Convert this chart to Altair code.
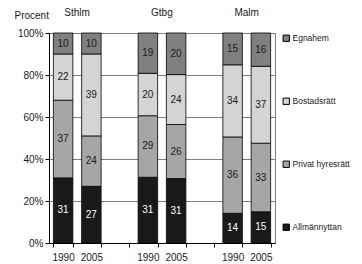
import altair as alt
import pandas as pd

categories = ["Allmännyttan", "Privat hyresrätt", "Bostadsrätt", "Egnahem"]
cities = ["Sthlm", "Gtbg", "Malm"]
years = ["1990", "2005"]
# one value per bar: Sthlm 1990, Sthlm 2005, Gtbg 1990, Gtbg 2005, Malm 1990, Malm 2005
allmannyttan = [31, 27, 31, 31, 14, 15]
privat_hyresratt = [37, 24, 29, 26, 36, 33]
bostadsratt = [22, 39, 20, 24, 34, 37]
egnahem = [10, 10, 19, 20, 15, 16]
colors = ["#1a1a1a", "#a6a6a6", "#d4d4d4", "#808080"]
y_ticks = [0.0, 0.2, 0.4, 0.6, 0.8, 1.0]
y_title = "Procent"

FONT = "Liberation Sans"
FS = 10

series = [allmannyttan, privat_hyresratt, bostadsratt, egnahem]
bar_keys = [f"{c} {y}" for c in cities for y in years]
slots = []
for i, c in enumerate(cities):
    slots += [f"{c} {y}" for y in years]
    if i < len(cities) - 1:
        slots.append(f"gap{i}")

rows = []
for bi, key in enumerate(bar_keys):
    total = sum(s[bi] for s in series)
    cum = 0
    for ci, cat in enumerate(categories):
        v = series[ci][bi]
        cum += v
        rows.append({"slot": key, "category": cat, "rank": ci, "value": v,
                     "label": str(v), "mid": (cum - v / 2) / total})
df = pd.DataFrame(rows)
titles = pd.DataFrame({"city": cities, "slot": [f"{c} {years[0]}" for c in cities]})

xscale = alt.Scale(domain=slots, paddingInner=0.31, paddingOuter=0.155)
yscale = alt.Scale(domain=[0, 1])

x_axis = alt.Axis(title=None, labelAngle=0, tickBand="extent",
                  labelExpr="indexof(datum.label, 'gap') == 0 ? '' : substring(datum.label, length(datum.label) - 4)",
                  domainColor="#000000", tickColor="#000000", tickSize=4,
                  labelPadding=5, grid=False, labelFont=FONT, labelFontSize=FS,
                  labelColor="#1a1a1a")

y_axis = alt.Axis(values=y_ticks, format=".0%", title=y_title, titleAngle=0,
                  titleAlign="left", titleX=-35, titleY=-18, titleBaseline="middle",
                  titleFontWeight="normal", titleFont=FONT, titleFontSize=FS,
                  titleColor="#1a1a1a",
                  labelFont=FONT, labelFontSize=FS, labelColor="#1a1a1a",
                  gridColor="#808080", gridWidth=1, domainColor="#000000",
                  tickColor="#000000", tickSize=4, labelPadding=2)

base = alt.Chart(df)

bars = base.mark_bar(stroke="#000000", strokeWidth=0.8).encode(
    x=alt.X("slot:N", scale=xscale, axis=x_axis),
    y=alt.Y("value:Q", stack="normalize", scale=yscale, axis=y_axis),
    color=alt.Color("category:N", scale=alt.Scale(domain=categories[::-1], range=colors[::-1]),
                    legend=alt.Legend(title=None, orient="none", legendX=233, legendY=1,
                                      symbolType="square", symbolSize=40,
                                      symbolStrokeColor="#000000", symbolStrokeWidth=1,
                                      labelFont=FONT, labelFontSize=8.5, labelColor="#1a1a1a",
                                      rowPadding=52, labelOffset=2, padding=0)),
    order=alt.Order("rank:Q"),
)

text_dark = base.transform_filter("datum.rank > 0").mark_text(
    font=FONT, fontSize=FS, baseline="middle", color="#1a1a1a").encode(
    x=alt.X("slot:N", scale=xscale),
    y=alt.Y("mid:Q", scale=yscale),
    text="label:N",
)
text_light = base.transform_filter("datum.rank == 0").mark_text(
    font=FONT, fontSize=FS, baseline="middle", color="#ffffff").encode(
    x=alt.X("slot:N", scale=xscale),
    y=alt.Y("mid:Q", scale=yscale),
    text="label:N",
)

group_titles = alt.Chart(titles).mark_text(font=FONT, fontSize=FS, baseline="middle",
                                           color="#1a1a1a", dx=14).encode(
    x=alt.X("slot:N", scale=xscale),
    y=alt.value(-20),
    text="city:N",
)

chart = alt.layer(bars, text_dark, text_light, group_titles).properties(
    width=226, height=210,
    autosize=alt.AutoSizeParams(type="none"),
    padding={"left": 41, "top": 25, "right": 79, "bottom": 21},
    background="#ffffff",
).configure_view(stroke="#808080")

chart.save("out.html", embed_options={"renderer": "svg", "actions": False})
